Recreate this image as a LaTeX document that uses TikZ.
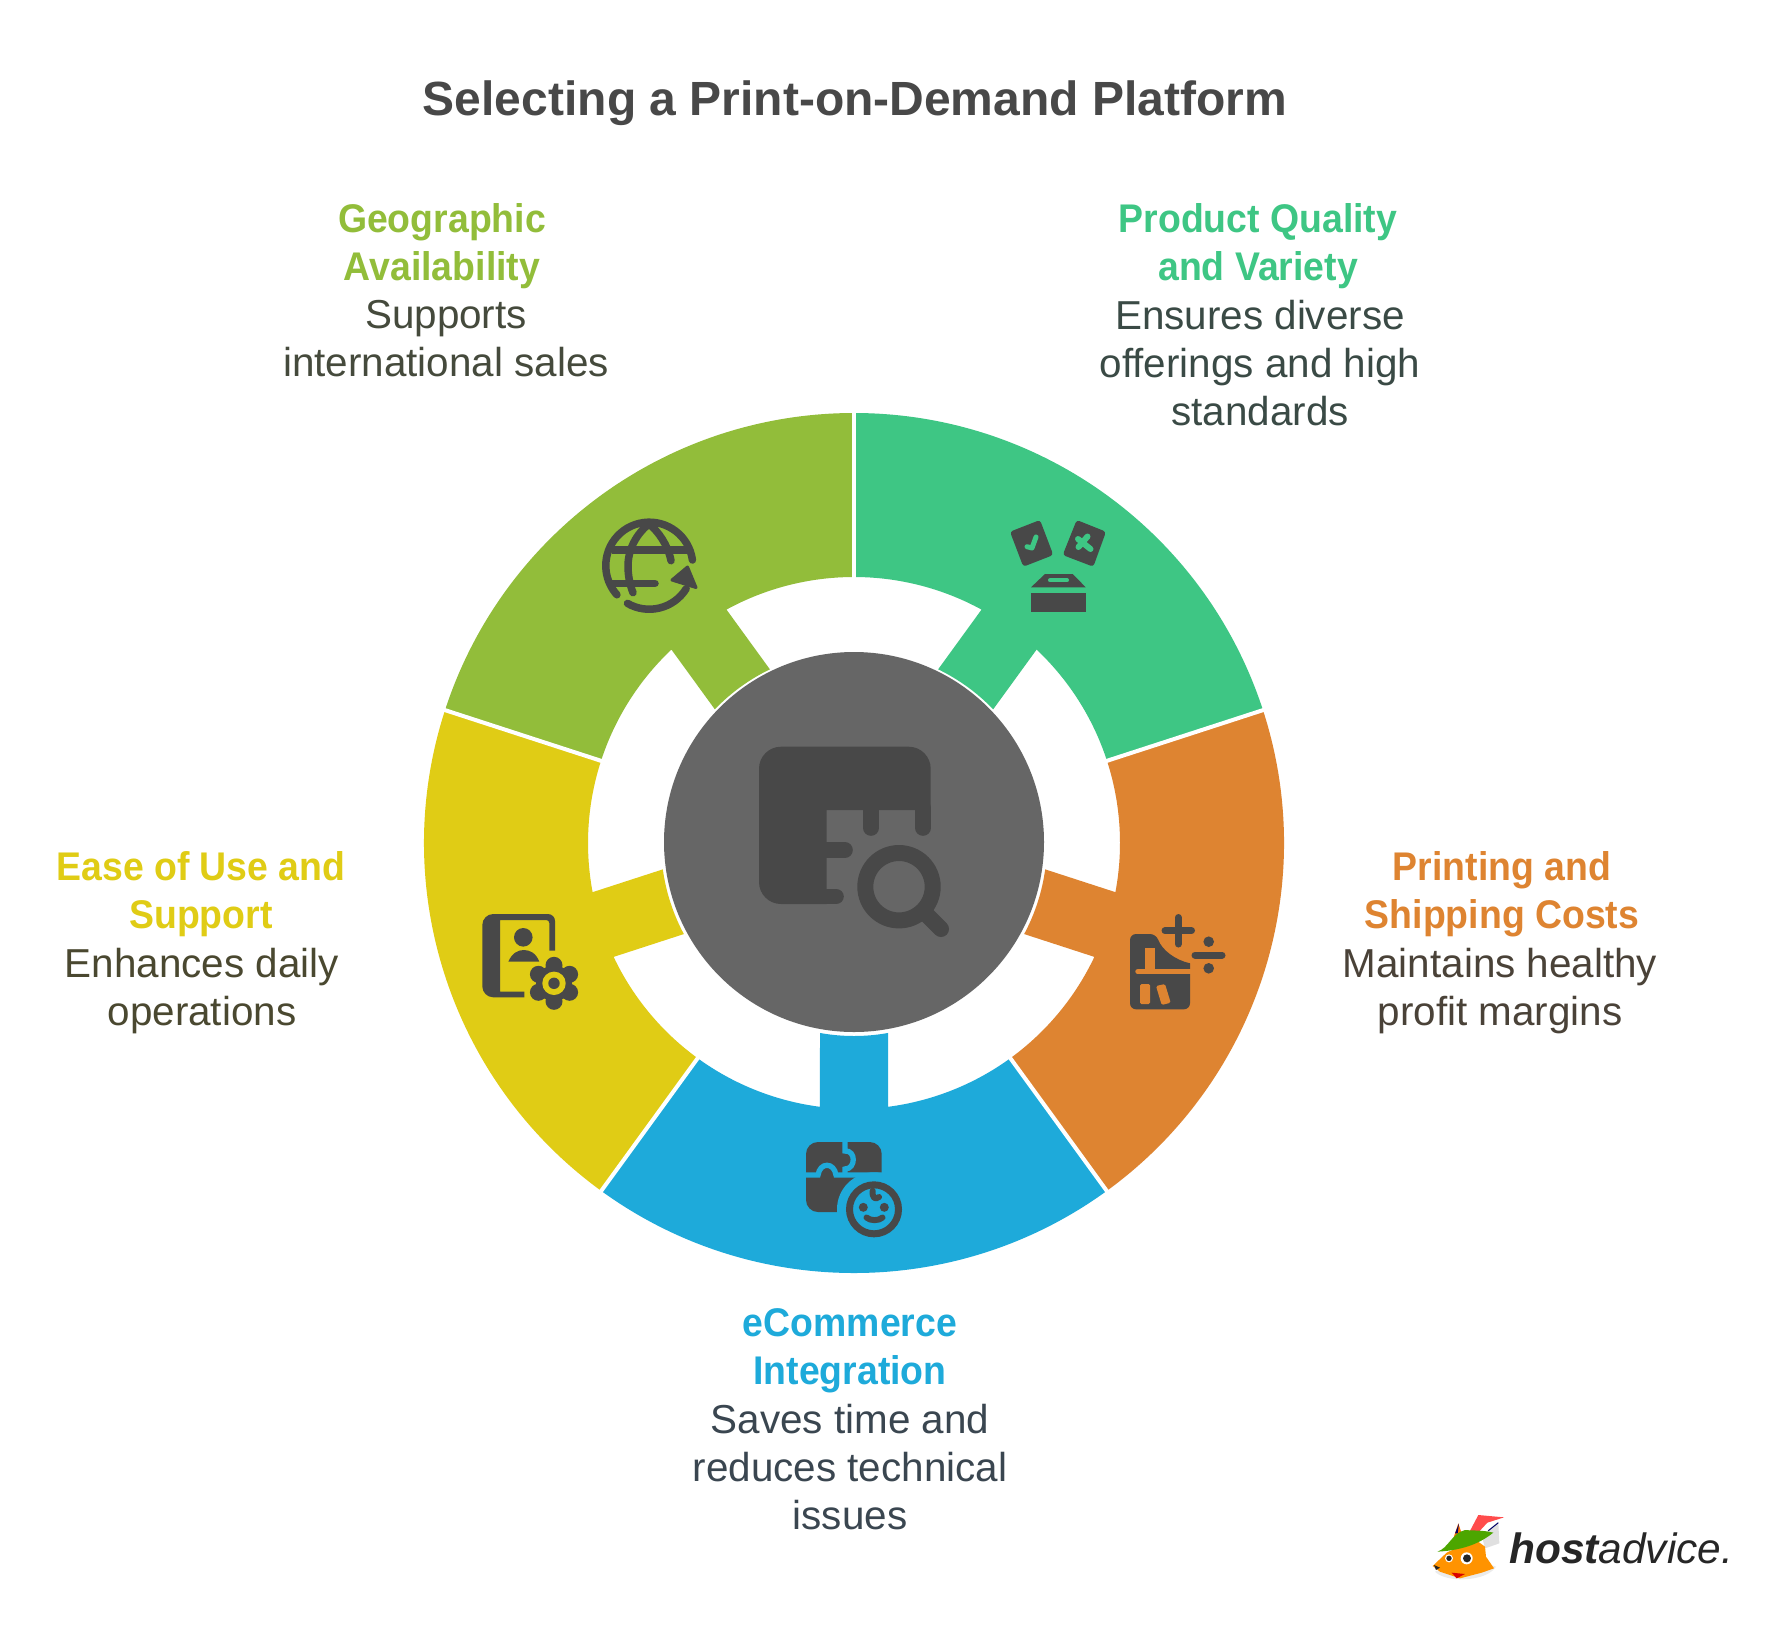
\documentclass[tikz,border=0pt]{standalone}
\usepackage{fontspec}
\setmainfont{Liberation Sans}
\newfontface\headface{Liberation Sans Bold}[FakeStretch=0.935]
\definecolor{cgreen}{HTML}{92BD3A}
\definecolor{cteal}{HTML}{3EC684}
\definecolor{corange}{HTML}{DE8431}
\definecolor{cblue}{HTML}{1EAADA}
\definecolor{cyellow}{HTML}{E0CC15}
\definecolor{chub}{HTML}{666666}
\definecolor{cicon}{HTML}{484848}
\definecolor{dgreen}{HTML}{454A3C}
\definecolor{dteal}{HTML}{3A4A45}
\definecolor{dorange}{HTML}{4A4238}
\definecolor{dblue}{HTML}{3A4650}
\definecolor{dyellow}{HTML}{4A4830}
\tikzset{
  headtext/.style={anchor=north,inner sep=0pt,align=center,font=\fontsize{40}{48}\selectfont\headface},
  bodytext/.style={anchor=north,inner sep=0pt,align=center,font=\fontsize{40.4}{48}\selectfont},
  titletext/.style={anchor=center,inner sep=0pt,font=\fontsize{48}{52}\selectfont\bfseries,text=cicon},
  ic/.style={line cap=round,line join=round,draw=cicon},
}
\begin{document}
\begin{tikzpicture}[x=1pt,y=-1pt]
\useasboundingbox[fill=white] (0,0) rectangle (1774,1636);
% ring
\begin{scope}[shift={(854,843)},x=1pt,y=1pt]
\foreach \c/\col in {54/cteal,126/cgreen,198/cyellow,270/cblue,342/corange}{
  \fill[\col] ({\c-36}:430) arc[start angle=\c-36,end angle=\c+36,radius=430pt]
    -- ({\c+36}:266) arc[start angle=\c+36,end angle=\c+7.35,radius=266pt]
    -- ({\c+10.15}:193) arc[start angle=\c+10.15,end angle=\c-10.15,radius=193pt]
    -- ({\c-7.35}:266) arc[start angle=\c-7.35,end angle=\c-36,radius=266pt] -- cycle;
}
\foreach \a in {90,18,-54,-126,162}{
  \draw[white,line width=4pt] (\a:255) -- (\a:440);
}
\end{scope}
\node[circle,fill=chub,minimum size=380pt,inner sep=0pt] (hub) at (854,842) {};
% hub icon
\fill[cicon,rounded corners=22pt] (759,746.7) -- (930.7,746.7) [sharp corners] -- (930.7,810) -- (826.7,810) -- (826.7,904) [rounded corners=22pt] -- (759,904) -- cycle;
\draw[ic,line width=15.6pt] (923,808) -- (923,828);
\draw[ic,line width=15.6pt] (871,808) -- (871,828);
\draw[ic,line width=15.6pt] (820,850) -- (845,850);
\draw[ic,line width=15.6pt] (820,896.5) -- (836,896.5);
\draw[cicon,line width=16pt] (899,886.7) circle[radius=33.7pt];
\draw[ic,line width=16pt] (926,914) -- (941,929);
% globe
\begin{scope}[ic,line width=7.5pt]
\draw (692.4,560) arc[start angle=7.5,end angle=222,radius=43.5pt];
\draw[line cap=butt] (612,550) -- (688,550);
\draw (612,583.3) -- (655,583.3);
\draw (649,524) .. controls (636,534) and (628,550) .. (628,566) .. controls (628,576) and (630,585) .. (633,592.7);
\draw (649,524) .. controls (658,531) and (668,545) .. (671,560.7);
\draw (627.5,603.4) arc[start angle=240,end angle=328,radius=43.5pt];
\fill[cicon,draw=cicon,line width=3pt] (687.5,567) -- (696,587.5) -- (672,580) -- cycle;
\end{scope}
% ballot box
\fill[cicon,rounded corners=3pt] (1010,531.7) -- (1040,520) -- (1053.3,555) -- (1023.3,566.7) -- cycle;
\fill[cicon,rounded corners=3pt] (1076.7,520) -- (1106,531.7) -- (1093.3,566.7) -- (1062.7,555) -- cycle;
\draw[cteal,line width=5pt,line cap=round,line join=round] (1027,546.7) -- (1032,548) -- (1036,537);
\draw[cteal,line width=6pt,line cap=round] (1078,539) -- (1090.5,549) (1087.5,536.5) -- (1078.5,547);
\fill[cicon] (1031,587.3) -- (1045,574) -- (1072.7,574) -- (1085.7,587.3) -- cycle;
\draw[cteal,line width=4pt,line cap=round] (1050,580.3) -- (1067,580.3);
\fill[cicon] (1031,592.7) rectangle (1085.7,611.7);
% contact book + gear
\fill[cicon] (524.3,997.3) [rounded corners=11pt] -- (482.3,997.3) -- (482.3,914) [rounded corners=7pt] -- (555,914) [sharp corners] -- (555,950.7) -- (549.3,950.7) [rounded corners=3pt] -- (549.3,920) [sharp corners] -- (500,920) -- (500,991.7) -- (524.3,991.7) -- cycle;
\fill[cicon] (523.3,937.3) circle[radius=9.3pt];
\fill[cicon] (508.3,961.7) .. controls (512,953) and (518,950) .. (523.8,950) .. controls (530,950) and (536,953) .. (539.3,961.7) -- cycle;
\begin{scope}[shift={(554,983.3)}]
\fill[cicon] (0,0) circle[radius=18pt];
\foreach \a in {30,90,150,210,270,330}{\fill[cicon] (\a:18) circle[radius=8.5pt];}
\fill[cyellow] (0,0) circle[radius=11.7pt];
\fill[cicon] (0,0) circle[radius=5.7pt];
\end{scope}
% costs icon
\fill[cicon,rounded corners=6pt] (1130,934) -- (1156,934) [sharp corners] .. controls (1162,950) and (1175,960) .. (1190,963.3) [rounded corners=6pt] -- (1190,1009.3) -- (1130,1009.3) -- cycle;
\draw[corange,line width=5.5pt,line cap=round] (1138,971.7) -- (1195,971.7);
\draw[corange,line width=10pt] (1150,948) -- (1150,972);
\fill[corange,rounded corners=1.5pt] (1140,984) rectangle (1150,1004);
\fill[corange,rounded corners=1.5pt] (1156,986) -- (1165,984) -- (1170.7,1002.7) -- (1161.7,1005) -- cycle;
\draw[ic,line width=7pt] (1165,930.7) -- (1191.5,930.7) (1178.3,917.5) -- (1178.3,944);
\draw[ic,line width=7pt] (1195,955) -- (1222,955);
\fill[cicon] (1208.7,941.7) circle[radius=5.3pt] (1208.7,968.3) circle[radius=5.3pt];
% puzzle + baby
\fill[cicon,rounded corners=12pt] (806,1142) rectangle (881.7,1212);
\draw[cblue,line width=5.3pt] (845,1142) -- (845,1151) .. controls (856,1150) and (856,1169) .. (845,1169) -- (845,1175);
\draw[cblue,line width=5.3pt] (806,1175) -- (818,1175) .. controls (820,1162) and (834,1162) .. (836,1175) -- (885,1175);
\fill[cblue] (874,1209.3) circle[radius=37pt];
\draw[cicon,line width=7pt] (874,1209.3) circle[radius=24.5pt];
\fill[cicon] (863.3,1207.3) circle[radius=4.5pt] (884.3,1207.3) circle[radius=4.5pt];
\draw[ic,line width=6pt] (866.5,1217.5) .. controls (870,1221) and (879,1221) .. (882.5,1217.5);
\draw[ic,line width=6pt] (872.7,1190.7) .. controls (872,1198) and (875,1200) .. (879,1197);
% title
\node[titletext] (title) at (855,103.5) {Selecting a Print-on-Demand Platform};
% labels
\node[headtext,text=cgreen] (h1) at (442,203) {Geographic\\Availability};
\node[bodytext,text=dgreen] (b1) at (446,300) {Supports\\international sales};
\node[headtext,text=cteal] (h2) at (1258,203) {Product Quality\\and Variety};
\node[bodytext,text=dteal] (b2) at (1260,300) {Ensures diverse\\offerings and high\\standards};
\node[headtext,text=corange] (h3) at (1502,851) {Printing and\\Shipping Costs};
\node[bodytext,text=dorange] (b3) at (1500,948) {Maintains healthy\\profit margins};
\node[headtext,text=cyellow] (h4) at (201,851) {Ease of Use and\\Support};
\node[bodytext,text=dyellow] (b4) at (202,948) {Enhances daily\\operations};
\node[headtext,text=cblue] (h5) at (850,1308) {eCommerce\\Integration};
\node[bodytext,text=dblue] (b5) at (850,1404) {Saves time and\\reduces technical\\issues};
% logo fox
\begin{scope}[shift={(1410,1500)},x=0.3333pt,y=-0.3333pt]
\fill[black!8] (75,215) .. controls (110,250) and (230,245) .. (258,200) -- (230,190) -- (100,205) -- cycle;
\fill[white!88!black] (265,68) -- (215,105) -- (225,145) -- (268,130) -- cycle;
\draw[blue!40!black,line width=1pt] (265,68) -- (235,92);
\fill[orange!90!red] (145,70) -- (125,130) -- (160,115) -- cycle;
\fill[blue!40!black] (147,70) -- (135,100) -- (143,100) -- cycle;
\fill[orange!85!yellow] (68,198) -- (110,158) -- (195,118) -- (225,140) -- (228,170) -- (252,205) -- (215,218) -- (150,235) -- (90,215) -- cycle;
\fill[red!70!white] (175,102) -- (205,45) -- (282,52) -- (232,68) -- (195,108) -- cycle;
\fill[green!50!black!70!yellow] (82,155) .. controls (115,145) and (125,100) .. (165,90) .. controls (185,92) and (220,90) .. (250,98) .. controls (215,125) and (170,150) .. (82,155) -- cycle;
\fill[white] (117,175) circle[radius=4pt] (170,175) circle[radius=6pt];
\fill[black!85] (117,175) circle[radius=2.7pt] (171,175) circle[radius=4pt];
\fill[black!85] (72,195) -- (90,203) -- (78,210) -- cycle;
\fill[red!85!black] (125,218) -- (165,222) -- (140,235) -- cycle;
\end{scope}
\node[anchor=base west,inner sep=0pt,font=\fontsize{42.4}{43}\selectfont\itshape,text=black!85] (logo) at (1509,1563) {\textbf{host}advice.};
\end{tikzpicture}
\end{document}
